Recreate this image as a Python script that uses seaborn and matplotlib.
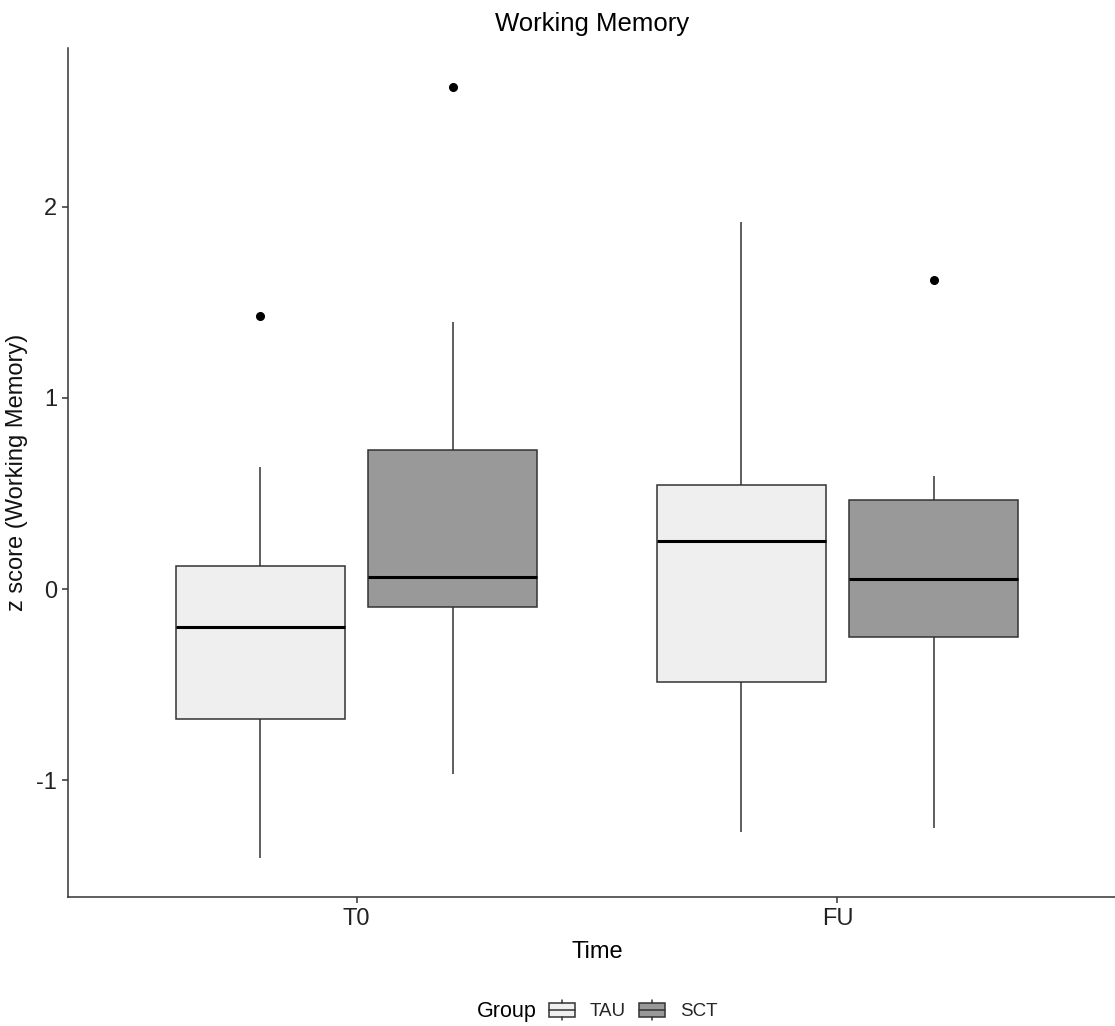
import numpy as np
import pandas as pd
import matplotlib
matplotlib.use("Agg")
import matplotlib.pyplot as plt
from matplotlib.patches import Rectangle, Patch
from matplotlib.lines import Line2D
from matplotlib.legend_handler import HandlerBase
import seaborn as sns

# Working-memory z scores: five-number summaries per Time x Group cell
times = ["T0", "T0", "FU", "FU"]
groups = ["TAU", "SCT", "TAU", "SCT"]
whisker_low = [-1.41, -0.97, -1.27, -1.25]
q1 = [-0.68, -0.094, -0.487, -0.251]
median = [-0.20, 0.063, 0.251, 0.052]
q3 = [0.12, 0.73, 0.545, 0.466]
whisker_high = [0.64, 1.40, 1.92, 0.59]
outliers = [[1.43], [2.63], [], [1.62]]

time_order = ["T0", "FU"]
group_order = ["TAU", "SCT"]
group_colors = {"TAU": "#EFEFEF", "SCT": "#999999"}

# Build a small sample per cell whose quartiles reproduce the summaries
rows = []
for t, g, lo, a, m, b, hi, out in zip(times, groups, whisker_low, q1, median,
                                        q3, whisker_high, outliers):
    if out:
        vals = [lo, a, a, m, m, b, b, hi] + out
    else:
        vals = [lo, a, a, m, m, b, b, b, hi]
    rows += [{"Time": t, "Group": g, "z": v} for v in vals]
df = pd.DataFrame(rows)

sns.set_theme(style="ticks")
plt.rcParams["font.family"] = ["Liberation Sans", "DejaVu Sans"]
plt.rcParams["axes.unicode_minus"] = False

W, H = 1115, 1026
fig = plt.figure(figsize=(W / 100, H / 100), dpi=100)
ax = fig.add_axes([68 / W, 1 - 897 / H, 1058 / W, (897 - 48) / H])

line_col = "#333333"
sns.boxplot(
    data=df, x="Time", y="z", hue="Group", order=time_order,
    hue_order=group_order, palette=group_colors, saturation=1,
    width=0.8, gap=0.12, whis=1.5, showcaps=False, linecolor=line_col,
    linewidth=1.1, legend=False, ax=ax,
    medianprops=dict(color="black", linewidth=2.2),
    flierprops=dict(marker="o", markerfacecolor="black",
                    markeredgecolor="black", markersize=5.5),
)

ax.set_xlim(-0.6, 1.6)
ax.set_ylim(-1.612, 2.832)
ax.set_yticks([-1, 0, 1, 2])
ax.set_yticklabels(["-1", "0", "1", "2"])

for side in ["top", "right"]:
    ax.spines[side].set_visible(False)
for side in ["left", "bottom"]:
    ax.spines[side].set_color(line_col)
    ax.spines[side].set_linewidth(1.1)
ax.tick_params(axis="both", colors=line_col, width=1.1, length=4,
               labelsize=17, labelcolor="#222222", pad=4)

ax.set_title("Working Memory", fontsize=18.5, color="black", pad=12)
ax.set_xlabel("Time", fontsize=17, color="black", labelpad=8)
ax.set_ylabel("z score (Working Memory)", fontsize=17, color="#111111",
              labelpad=6)
ax.title.set_position((0.495, 1.0))


class BoxKey(HandlerBase):
    """Legend key drawn as a miniature boxplot."""

    def create_artists(self, legend, orig_handle, xdescent, ydescent,
                       width, height, fontsize, trans):
        x0, y0 = -xdescent, -ydescent
        cx, cy = x0 + width / 2, y0 + height / 2
        bh, stub = 9.5, 2.6
        box = Rectangle((x0, cy - bh / 2), width, bh,
                        facecolor=orig_handle.get_facecolor(),
                        edgecolor=line_col, linewidth=1.1, transform=trans)
        med = Line2D([x0, x0 + width], [cy, cy], color=line_col,
                     linewidth=1.1, transform=trans)
        up = Line2D([cx, cx], [cy + bh / 2, cy + bh / 2 + stub],
                    color=line_col, linewidth=1.1, transform=trans)
        dn = Line2D([cx, cx], [cy - bh / 2, cy - bh / 2 - stub],
                    color=line_col, linewidth=1.1, transform=trans)
        return [box, med, up, dn]


handles = [Patch(facecolor=group_colors[g]) for g in group_order]
fig.text(477 / W, 1 - 1011 / H, "Group", fontsize=15.5, color="black",
         ha="left", va="center")
fig.legend(handles, group_order, handler_map={Patch: BoxKey()},
           loc="center left", bbox_to_anchor=(549 / W, 1 - 1011 / H),
           ncol=2, frameon=False, fontsize=13.5, handlelength=1.39,
           handleheight=1.0, handletextpad=0.8, columnspacing=0.7,
           borderpad=0, borderaxespad=0)

fig.savefig("out.png", dpi=100)
